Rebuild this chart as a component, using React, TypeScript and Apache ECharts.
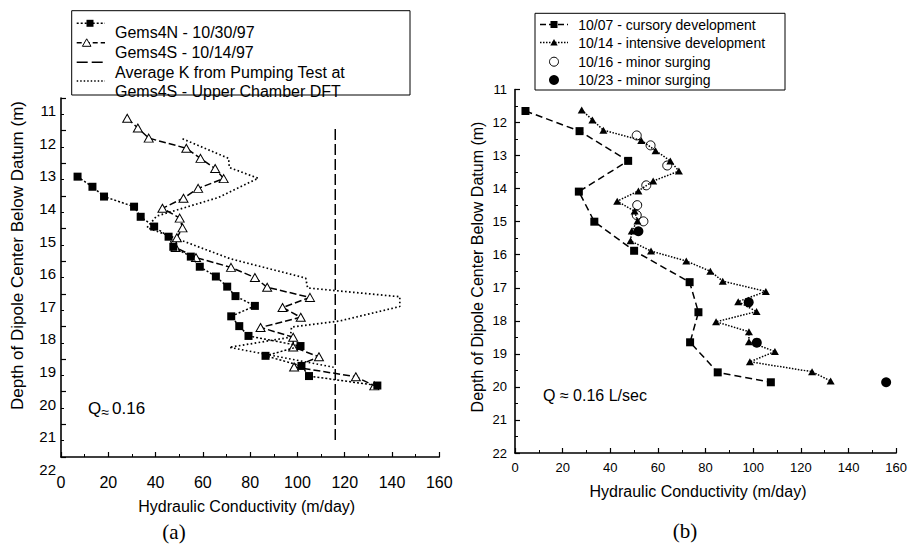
import React, { useEffect, useRef } from "react";
import * as echarts from "echarts";

// ---------- Panel (a) ----------
const gems4N_depth = [13.41, 13.72, 14.02, 14.33, 14.64, 14.94, 15.25, 15.56, 15.86, 16.17, 16.47, 16.78, 17.07, 17.37, 17.69, 17.99, 18.29, 18.6, 18.9, 19.21, 19.52, 19.81];
const gems4N_K = [7.0, 13.3, 18.2, 30.9, 33.7, 39.4, 45.5, 47.5, 54.9, 58.7, 65.5, 70.3, 73.8, 82.0, 72.0, 75.4, 79.3, 101.3, 86.5, 101.7, 104.9, 133.8];

// Gems4S 10/14/97 (same profile as 10/14 intensive development in panel b)
const gems4S_depth = [11.62, 11.92, 12.23, 12.54, 12.85, 13.16, 13.47, 13.77, 14.07, 14.38, 14.68, 14.98, 15.28, 15.58, 15.89, 16.19, 16.5, 16.8, 17.11, 17.42, 17.72, 18.03, 18.33, 18.63, 18.93, 19.24, 19.54, 19.82];
const gems4S_K = [28.0, 32.5, 37.1, 53.0, 59.0, 65.2, 68.8, 58.0, 51.8, 42.9, 50.2, 51.4, 49.0, 48.5, 57.1, 71.9, 82.0, 87.2, 105.3, 93.7, 101.4, 84.4, 98.2, 98.2, 109.1, 98.6, 124.7, 132.5];

const pumpK = 116;
const pumpDepthRange = [11.95, 21.5];

const dft_depth = [12.25, 12.85, 13.13, 13.46, 14.05, 14.62, 14.97, 15.92, 16.52, 16.82, 17.09, 17.39, 17.83, 18.02, 18.33, 18.64, 19.25];
const dft_K = [51.4, 70.9, 71.2, 83.4, 66.5, 40.4, 36.4, 71.4, 103.5, 104.3, 143.3, 143.3, 118.0, 97.5, 97.0, 71.2, 115.3];

// ---------- Panel (b) ----------
const cursory_depth = [11.65, 12.26, 13.16, 14.09, 15.0, 15.88, 16.83, 17.74, 18.65, 19.56, 19.86];
const cursory_K = [4.4, 27.1, 47.5, 26.8, 33.3, 50.0, 73.3, 77.0, 73.5, 85.1, 107.4];

const intensive_depth = gems4S_depth;
const intensive_K = gems4S_K;

const surge16_depth = [12.39, 12.69, 13.3, 13.9, 14.5, 14.8, 14.99];
const surge16_K = [51.1, 56.9, 63.9, 55.1, 51.3, 51.1, 53.9];

const surge23_depth = [15.29, 17.44, 18.66, 19.86];
const surge23_K = [51.8, 98.1, 101.5, 155.8];

const xTicks = { min: 0, max: 160, interval: 20 };
const yTicks = { min: 11, max: 22, interval: 1 };

const legendA = ["Gems4N - 10/30/97", "Gems4S - 10/14/97", "Average K from Pumping Test at", "Gems4S - Upper Chamber DFT"];
const legendB = ["10/07 - cursory development", "10/14 - intensive development", "10/16 - minor surging", "10/23 - minor surging"];

const zip = (k: number[], d: number[]) => k.map((v, i) => [v, d[i]]);

const SANS = "'Liberation Sans', Arial, sans-serif";
const SERIF = "'Liberation Serif', 'Times New Roman', serif";

function xAxis(gridIndex: number, fontSize: number, margin: number) {
  return {
    type: "value",
    gridIndex,
    ...xTicks,
    axisLine: { onZero: false, lineStyle: { color: "#000", width: 1.6 } },
    axisTick: { inside: true, length: 5, lineStyle: { color: "#000", width: 1.2 } },
    minorTick: { show: true, splitNumber: 2, length: 3, lineStyle: { color: "#000", width: 1 } },
    splitLine: { show: false },
    axisLabel: { color: "#000", fontSize, fontFamily: SANS, margin, showMinLabel: true, showMaxLabel: true },
  };
}

function yAxis(gridIndex: number, fontSize: number, margin: number, shifted: boolean) {
  return {
    type: "value",
    gridIndex,
    inverse: true,
    ...yTicks,
    axisLine: { onZero: false, lineStyle: { color: "#000", width: 1.6 } },
    axisTick: { inside: true, length: 5, lineStyle: { color: "#000", width: 1.2 } },
    minorTick: { show: true, splitNumber: 2, length: 3, lineStyle: { color: "#000", width: 1 } },
    splitLine: { show: false },
    axisLabel: shifted
      ? { color: "#000", fontSize, fontFamily: SANS, margin, verticalAlign: "top", padding: [5, 0, 0, 0], showMinLabel: true, showMaxLabel: true }
      : { color: "#000", fontSize, fontFamily: SANS, margin, showMinLabel: true, showMaxLabel: true },
  };
}

function txt(x: number, y: number, text: string, fontSize: number, extra: any = {}) {
  return {
    type: "text",
    x,
    y,
    z: 10,
    style: { text, fontSize, fontFamily: SANS, fill: "#000", textAlign: "left", textVerticalAlign: "middle", ...extra },
  };
}

function hline(x1: number, x2: number, y: number, dash: number[] | null, w = 1.5) {
  return {
    type: "line",
    z: 10,
    shape: { x1, y1: y, x2, y2: y },
    style: { stroke: "#000", lineWidth: w, lineDash: dash || undefined },
  };
}

export default function App() {
  const ref = useRef<HTMLDivElement>(null);

  useEffect(() => {
    if (!ref.current) return;
    const chart = echarts.init(ref.current, undefined, { renderer: "svg" });

    const graphic: any[] = [
      // Legend (a)
      hline(76.7, 105, 23.3, [2, 2]),
      { type: "rect", z: 11, shape: { x: 86.5, y: 19.8, width: 7, height: 7 }, style: { fill: "#000" } },
      hline(76.7, 105, 42.7, [5, 3]),
      { type: "polygon", z: 11, shape: { points: [[82.4, 46.3], [91, 46.3], [86.7, 38.8]] }, style: { fill: "#fff", stroke: "#000", lineWidth: 1 } },
      hline(76.7, 105, 62.3, [11, 4]),
      hline(76.7, 105, 81, [1.5, 2]),
      txt(115, 32, legendA[0], 16),
      txt(115, 52, legendA[1], 16),
      txt(115, 72, legendA[2], 16),
      txt(115, 91, legendA[3], 16),
      { type: "rect", z: 12, shape: { x: 71.7, y: 10.7, width: 338.3, height: 84.3 }, style: { fill: "none", stroke: "#000", lineWidth: 1 } },

      // Legend (b)
      { type: "rect", z: 9, shape: { x: 535, y: 13.3, width: 250, height: 76.7 }, style: { fill: "#fff", stroke: "#000", lineWidth: 1 } },
      hline(540, 568, 24.5, [6, 3]),
      { type: "rect", z: 11, shape: { x: 550.5, y: 21, width: 7, height: 7 }, style: { fill: "#000" } },
      hline(540, 568, 42.5, [1.5, 1.5]),
      { type: "polygon", z: 11, shape: { points: [[550.3, 45.5], [557.7, 45.5], [554, 39]] }, style: { fill: "#000" } },
      { type: "circle", z: 11, shape: { cx: 554, cy: 61.7, r: 4.5 }, style: { fill: "none", stroke: "#000", lineWidth: 1 } },
      { type: "circle", z: 11, shape: { cx: 554, cy: 80, r: 5 }, style: { fill: "#000" } },
      txt(578.3, 25, legendB[0], 14),
      txt(578.3, 42.5, legendB[1], 14),
      txt(578.3, 62, legendB[2], 14),
      txt(578.3, 80, legendB[3], 14),

      // Axis titles
      txt(246.7, 506.7, "Hydraulic Conductivity (m/day)", 16, { textAlign: "center" }),
      txt(698, 491.7, "Hydraulic Conductivity (m/day)", 16, { textAlign: "center" }),
      { ...txt(17.5, 255.5, "Depth of Dipole Center Below Datum (m)", 17, { textAlign: "center" }), rotation: Math.PI / 2 },
      { ...txt(477, 267, "Depth of Dipole Center Below Datum (m)", 16, { textAlign: "center" }), rotation: Math.PI / 2 },

      // Q annotations
      txt(88, 408, "Q", 17),
      txt(101.5, 411.5, "≈", 14),
      txt(112, 408, "0.16", 17),
      txt(543, 395, "Q ≈ 0.16 L/sec", 16),

      // Panel captions
      txt(174, 532, "(a)", 21, { textAlign: "center", fontFamily: SERIF }),
      txt(685, 531, "(b)", 21, { textAlign: "center", fontFamily: SERIF }),
    ];

    const blackLine = (type: any, width = 1.5) => ({ color: "#000", width, type });

    const option: any = {
      animation: false,
      backgroundColor: "#fff",
      grid: [
        { left: 61, top: 98, width: 378.3, height: 359 },
        { left: 515, top: 89.5, width: 384, height: 363.5 },
      ],
      xAxis: [xAxis(0, 16, 17), xAxis(1, 13, 8)],
      yAxis: [yAxis(0, 15, 5, true), yAxis(1, 13, 8, false)],
      series: [
        {
          name: "dft",
          type: "line",
          xAxisIndex: 0,
          yAxisIndex: 0,
          data: zip(dft_K, dft_depth),
          symbol: "none",
          lineStyle: blackLine([1.6, 2.4], 1.7),
          z: 2,
        },
        {
          name: "pump",
          type: "line",
          xAxisIndex: 0,
          yAxisIndex: 0,
          data: [[pumpK, pumpDepthRange[0]], [pumpK, pumpDepthRange[1]]],
          symbol: "none",
          lineStyle: blackLine([11, 4], 1.5),
          z: 2,
        },
        {
          name: "gems4S",
          type: "line",
          xAxisIndex: 0,
          yAxisIndex: 0,
          data: zip(gems4S_K, gems4S_depth),
          symbol: "triangle",
          symbolSize: [9, 8],
          itemStyle: { color: "#fff", borderColor: "#000", borderWidth: 1 },
          lineStyle: blackLine([7, 3], 1.5),
          z: 3,
        },
        {
          name: "gems4N",
          type: "line",
          xAxisIndex: 0,
          yAxisIndex: 0,
          data: zip(gems4N_K, gems4N_depth),
          symbol: "rect",
          symbolSize: 8,
          itemStyle: { color: "#000" },
          lineStyle: blackLine([2, 2], 1.5),
          z: 4,
        },
        {
          name: "cursory",
          type: "line",
          xAxisIndex: 1,
          yAxisIndex: 1,
          data: zip(cursory_K, cursory_depth),
          symbol: "rect",
          symbolSize: 8,
          itemStyle: { color: "#000" },
          lineStyle: blackLine([7, 4], 1.5),
          z: 3,
        },
        {
          name: "intensive",
          type: "line",
          xAxisIndex: 1,
          yAxisIndex: 1,
          data: zip(intensive_K, intensive_depth),
          symbol: "triangle",
          symbolSize: [8, 7],
          itemStyle: { color: "#000" },
          lineStyle: blackLine([1.5, 1.5], 1.5),
          z: 3,
        },
        {
          name: "surge16",
          type: "line",
          xAxisIndex: 1,
          yAxisIndex: 1,
          data: zip(surge16_K, surge16_depth),
          symbol: "circle",
          symbolSize: 9,
          itemStyle: { color: "rgba(0,0,0,0)", borderColor: "#000", borderWidth: 1 },
          lineStyle: { width: 0, opacity: 0 },
          z: 4,
        },
        {
          name: "surge23",
          type: "line",
          xAxisIndex: 1,
          yAxisIndex: 1,
          data: zip(surge23_K, surge23_depth),
          symbol: "circle",
          symbolSize: 10,
          itemStyle: { color: "#000" },
          lineStyle: { width: 0, opacity: 0 },
          z: 4,
        },
      ],
      graphic,
    };

    chart.setOption(option);
    return () => chart.dispose();
  }, []);

  return (
    <div
      ref={ref}
      style={{ position: "absolute", left: 0, top: 0, width: 910, height: 545, background: "#fff" }}
    />
  );
}
